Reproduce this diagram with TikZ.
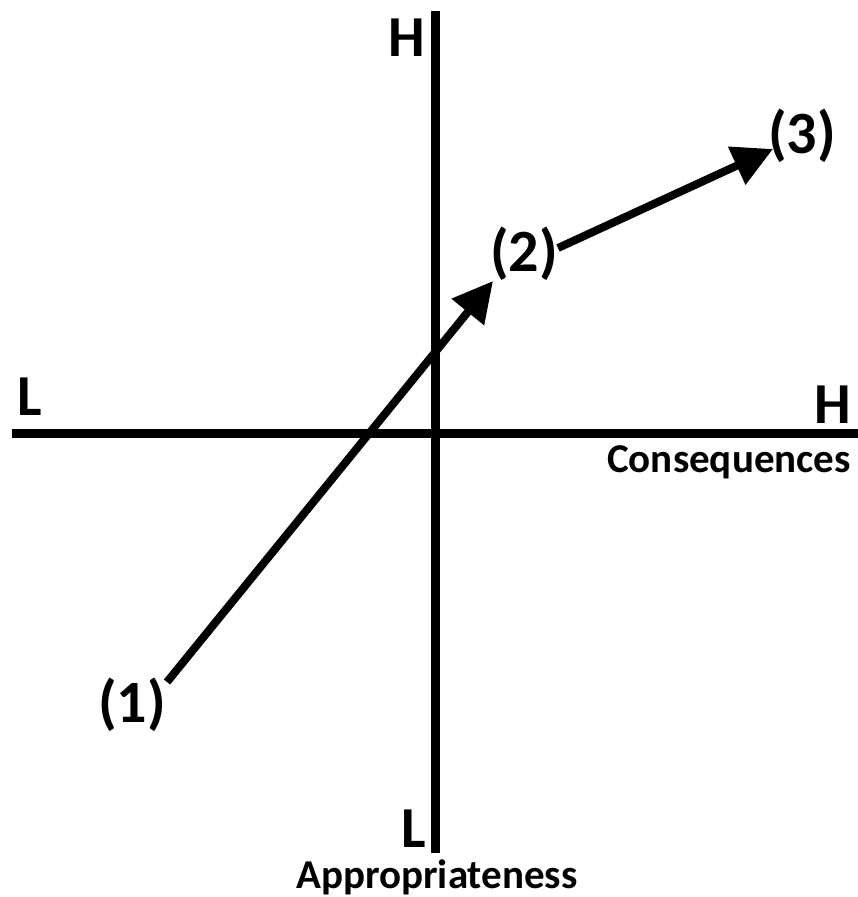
\documentclass[tikz,border=0pt]{standalone}
\usepackage{fontspec}
\setmainfont{Carlito}
\usetikzlibrary{arrows.meta}

\tikzset{
  axis/.style={line width=9pt},
  flow/.style={line width=8pt,-{Triangle[length=40pt,width=40pt]}},
  endlabel/.style={font=\bfseries\fontsize{58}{58}\selectfont,anchor=base,inner sep=0pt},
  steplabel/.style={font=\bfseries\fontsize{60}{60}\selectfont,anchor=base,inner sep=0pt},
  axisname/.style={font=\bfseries\fontsize{41}{41}\selectfont,anchor=base,inner sep=0pt}
}

\begin{document}
\begin{tikzpicture}[x=1pt,y=-1pt,line cap=butt,line join=miter]
        \useasboundingbox (0,0) rectangle (858,897);

        % Axes
        \draw[axis] (435.5,11) -- (435.5,853);
        \draw[axis] (12,433.5) -- (858,433.5);

        % Axis ends
        \node[endlabel] (apphigh) at (407,56) {H};
        \node[endlabel] (applow) at (414,847) {L};
        \node[endlabel] (conlow) at (30,415) {L};
        \node[endlabel] (conhigh) at (833,423) {H};
        \node[axisname] (conname) at (729,472) {Consequences};
        \node[axisname] (appname) at (437,888) {Appropriateness};

        % Steps
        \node[steplabel] (s1) at (132,722) {(1)};
        \node[steplabel] (s2) at (524,271) {(2)};
        \node[steplabel] (s3) at (802,153) {(3)};

        \draw[flow] ([shift={(35,-40)}]s1.base) -- ([shift={(-31,10)}]s2.base);
        \draw[flow] ([shift={(34,-23)}]s2.base) -- ([shift={(-29,-4)}]s3.base);
    \end{tikzpicture}
\end{document}
